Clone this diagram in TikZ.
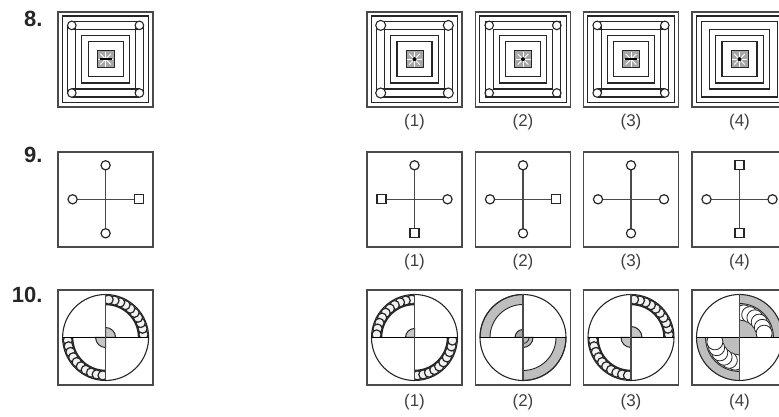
\documentclass[tikz,border=0pt]{standalone}
\usepackage{fontspec}
\setmainfont{Liberation Sans}
\usetikzlibrary{calc}
\definecolor{frame}{HTML}{4A4A4A}
\definecolor{ink}{HTML}{262626}
\definecolor{band}{HTML}{BEBEBE}
\definecolor{labgray}{HTML}{404040}
\tikzset{
  framebox/.style={draw=frame, line width=1.7pt},
  inkline/.style={draw=ink, line width=1.2pt},
  crossline/.style={draw=frame, line width=1.4pt},
  endmark/.style={draw=ink, line width=1.2pt, fill=white},
  cornermark/.style={draw=ink, line width=1.1pt},
  optlabel/.style={font=\fontsize{17}{17}\selectfont, text=labgray},
  numlabel/.style={font=\fontsize{22}{22}\selectfont\bfseries, text=ink, anchor=base east},
}
% ---------- row 8 : nested squares ----------
\newcommand\sqfig[5]{% cx, cy, corner mode (0 none,1 circles,2 circles over lines), radius, centre (0 bar,1 dot)
\begin{scope}[shift={(#1,#2)}]
  \draw[framebox] (-47.5,-47.5) rectangle (47.5,47.5);
  \draw[inkline] (-43.2,-43.2) rectangle (43.2,43.2);
  \ifnum#3=1
    \foreach \s in {29.8,37.8} {
      \draw[inkline] (-33.8,\s) -- (33.8,\s);
      \draw[inkline] (-33.8,-\s) -- (33.8,-\s);
      \draw[inkline] (\s,-33.8) -- (\s,33.8);
      \draw[inkline] (-\s,-33.8) -- (-\s,33.8);
    }
  \else
    \draw[inkline] (-37.8,-37.8) rectangle (37.8,37.8);
    \draw[inkline] (-29.8,-29.8) rectangle (29.8,29.8);
  \fi
  \draw[inkline] (-23.8,-23.8) rectangle (23.8,23.8);
  \draw[inkline] (-17.5,-17.5) rectangle (17.5,17.5);
  \fill[gray!70] (-8.5,-8.5) rectangle (8.5,8.5);
  \foreach \a in {0,45,90,135} \draw[white, line width=0.9pt] (\a:7.5) -- (\a+180:7.5);
  \draw[ink, line width=1.0pt] (-8.5,-8.5) rectangle (8.5,8.5);
  \ifnum#5=0
    \draw[black, line width=1.4pt] (-6,0) -- (6,0);
  \else
    \fill[black] (0,0) circle (2.0);
  \fi
  \ifnum#3=1
    \foreach \p in {(-33.8,-33.8),(33.8,-33.8),(33.8,33.8),(-33.8,33.8)}
      \filldraw[cornermark, fill=white] \p circle (#4);
  \fi
  \ifnum#3=2
    \foreach \p in {(-33.8,-33.8),(33.8,-33.8),(33.8,33.8),(-33.8,33.8)}
      \draw[cornermark] \p circle (#4);
  \fi
\end{scope}}
% ---------- row 9 : crosses ----------
\newcommand\mkc[1]{\filldraw[endmark] (#1) circle (4.6);}
\newcommand\mks[1]{\filldraw[endmark] ($(#1)+(-4.5,-4.5)$) rectangle ++(9,9);}
\newcommand\crossfig[6]{% cx, cy, top, left, right, bottom
\begin{scope}[shift={(#1,#2)}]
  \draw[framebox] (-47.5,-47.5) rectangle (47.5,47.5);
  \coordinate (ct) at (0,34);
  \coordinate (cb) at (0,-34);
  \coordinate (cl) at (-33,0);
  \coordinate (cr) at (33,0);
  \draw[crossline] (ct) -- (cb);
  \draw[crossline] (cl) -- (cr);
  #3{0,34}#4{-33,0}#5{33,0}#6{0,-34}
\end{scope}}
% ---------- row 10 : circles ----------
\newcommand\scallop[1]{%
  \pgfmathsetmacro\ea{#1+90}%
  \begin{scope}
    \clip (#1:33) arc[start angle=#1, end angle=\ea, radius=33] -- (\ea:43) arc[start angle=\ea, end angle=#1, radius=43] -- cycle;
    \fill[gray!60] (0,0) circle (43);
    \foreach \k in {0,...,9} {
      \pgfmathsetmacro\ang{#1+4.5+\k*9.0}
      \filldraw[fill=gray!10, draw=ink, line width=1.2pt] (\ang:38) circle (4.6);
    }
  \end{scope}
  \draw[ink, line width=1.5pt] (#1:33) arc[start angle=#1, end angle=\ea, radius=33];
}
\newcommand\plainband[1]{%
  \pgfmathsetmacro\ea{#1+90}%
  \filldraw[fill=band, draw=ink, line width=0.9pt] (#1:33) arc[start angle=#1, end angle=\ea, radius=33] -- (\ea:43) arc[start angle=\ea, end angle=#1, radius=43] -- cycle;
}
\newcommand\bigscallop[1]{%
  \pgfmathsetmacro\ea{#1+90}%
  \begin{scope}
    \clip (0,0) -- (#1:43) arc[start angle=#1, end angle=\ea, radius=43] -- cycle;
    \fill[band] (0,0) circle (43);
    \clip (0,0) circle (34);
    \foreach \k in {0,...,5} {
      \pgfmathsetmacro\ang{#1+80-\k*14}
      \filldraw[fill=white, draw=ink, line width=0.8pt] (\ang:25) circle (8);
    }
  \end{scope}
  \draw[ink, line width=0.8pt] (#1:34) arc[start angle=#1, end angle=\ea, radius=34];
}
\newcommand\quarter[3]{% start angle, fill, radius
  \pgfmathsetmacro\ea{#1+90}%
  \filldraw[fill=#2, draw=ink, line width=1.0pt] (0,0) -- (#1:#3) arc[start angle=#1, end angle=\ea, radius=#3] -- cycle;
}
\newcommand\circfig[3]{% cx, cy, contents
\begin{scope}[shift={(#1,#2)}]
  \draw[framebox] (-47.5,-47.5) rectangle (47.5,47.5);
  #3
  \draw[ink, line width=1.1pt] (0,0) circle (43);
  \draw[black, line width=1.5pt] (-43,0) -- (43,0);
  \draw[frame, line width=1.6pt] (0,43) -- (0,-43);
\end{scope}}

\begin{document}
\begin{tikzpicture}[x=1pt,y=1pt]
\useasboundingbox (0,0) rectangle (779,417);
\clip (0,0) rectangle (779,417);
% number labels
\node[numlabel] (n8) at (46,390) {8.};
\node[numlabel] (n9) at (46,254) {9.};
\node[numlabel] (n10) at (46,114) {10.};
% row 8
\sqfig{105.6}{357.8}{1}{4.3}{0}
\sqfig{414.5}{357.8}{1}{5.0}{1}
\sqfig{523}{357.8}{2}{4.3}{1}
\sqfig{631}{357.8}{1}{4.3}{0}
\sqfig{739.5}{357.8}{0}{4.3}{1}
% row 9
\crossfig{105.6}{217.7}{\mkc}{\mkc}{\mks}{\mkc}
\crossfig{414.5}{217.7}{\mkc}{\mks}{\mkc}{\mks}
\crossfig{523}{217.7}{\mkc}{\mkc}{\mks}{\mkc}
\crossfig{631}{217.7}{\mkc}{\mkc}{\mkc}{\mkc}
\crossfig{739.5}{217.7}{\mks}{\mkc}{\mkc}{\mks}
% row 10
\circfig{105.6}{79.5}{\scallop{0}\scallop{180}\quarter{0}{gray!45}{10}\quarter{180}{gray!45}{10}}
\circfig{414.5}{79.5}{\scallop{90}\scallop{270}\quarter{90}{gray!45}{9}}
\circfig{523}{79.5}{\plainband{90}\plainband{270}\quarter{90}{gray!70}{8}\quarter{270}{gray!55}{10}\draw[ink, line width=0.8pt] (270:6) arc[start angle=270, end angle=360, radius=6];}
\circfig{631}{79.5}{\scallop{0}\scallop{180}\quarter{0}{gray!45}{11}\quarter{180}{gray!45}{10}}
\circfig{739.5}{79.5}{\bigscallop{0}\bigscallop{180}}
% option labels
\foreach \cx/\nm [count=\i] in {414.5/a,523/b,631/c,739.5/d} {
  \node[optlabel] (l8\nm) at (\cx,294.5) {(\i)};
  \node[optlabel] (l9\nm) at (\cx,155) {(\i)};
  \node[optlabel] (l10\nm) at (\cx,14.5) {(\i)};
}
\end{tikzpicture}
\end{document}
